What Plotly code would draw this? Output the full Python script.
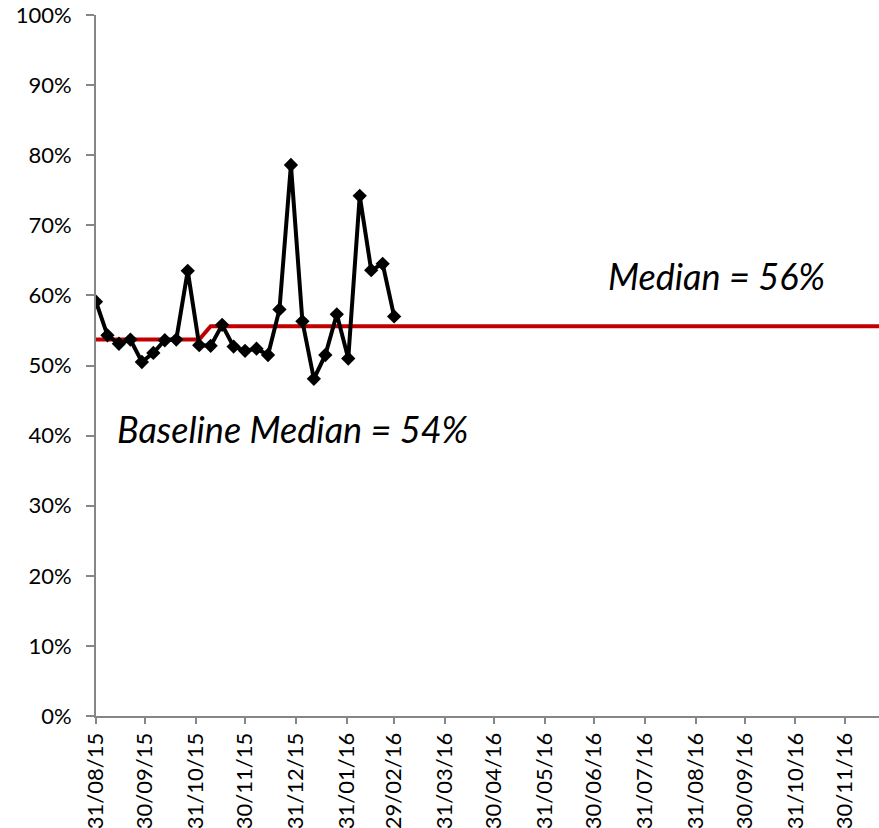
import pandas as pd
import plotly.graph_objects as go

# Weekly measurements (Monday week-start), as fractions
week_dates = pd.date_range("2015-08-31", "2016-02-29", freq="7D")
rate = [0.591, 0.543, 0.531, 0.537, 0.505, 0.518, 0.536, 0.537, 0.635, 0.529,
        0.528, 0.558, 0.527, 0.521, 0.524, 0.515, 0.580, 0.786, 0.563, 0.481,
        0.515, 0.573, 0.510, 0.742, 0.636, 0.645, 0.570]

# Median reference line: baseline for the first 10 weeks, then the new median
baseline_median = 0.537
new_median = 0.556
baseline_weeks = 10
median_dates = pd.date_range("2015-08-31", "2016-12-26", freq="7D")
median_vals = [baseline_median if i < baseline_weeks else new_median
               for i in range(len(median_dates))]

# Month-end axis ticks
tick_dates = pd.to_datetime([
    "2015-08-31", "2015-09-30", "2015-10-31", "2015-11-30", "2015-12-31",
    "2016-01-31", "2016-02-29", "2016-03-31", "2016-04-30", "2016-05-31",
    "2016-06-30", "2016-07-31", "2016-08-31", "2016-09-30", "2016-10-31",
    "2016-11-30",
])
tick_text = [d.strftime("%d/%m/%y") for d in tick_dates]

FONT = "Lato"
AXIS_GREY = "#868686"
TICK_SIZE = 22

fig = go.Figure()

fig.add_trace(go.Scatter(
    x=median_dates, y=median_vals, mode="lines",
    line=dict(color="#C00000", width=4),
    hoverinfo="skip", showlegend=False,
))

fig.add_trace(go.Scatter(
    x=week_dates, y=rate, mode="lines+markers",
    line=dict(color="black", width=4),
    marker=dict(symbol="diamond", size=11, color="black"),
    showlegend=False,
))

fig.add_annotation(
    x="2016-09-13", y=0.627, xref="x", yref="y",
    text=f"<i>Median = {new_median:.0%}</i>", showarrow=False,
    font=dict(family=FONT, size=36, color="black"),
)
fig.add_annotation(
    x="2015-12-29", y=0.410, xref="x", yref="y",
    text=f"<i>Baseline Median = {baseline_median:.0%}</i>", showarrow=False,
    font=dict(family=FONT, size=36, color="black"),
)

fig.update_layout(
    width=879, height=828,
    margin=dict(l=96, r=0, t=15, b=112),
    paper_bgcolor="white", plot_bgcolor="white",
    font=dict(family=FONT, size=TICK_SIZE, color="black"),
)

fig.update_xaxes(
    range=["2015-08-31", "2016-12-21"], automargin=False,
    tickmode="array", tickvals=tick_dates, ticktext=tick_text,
    tickangle=-90, ticks="outside", ticklen=6, tickwidth=1.5, tickcolor=AXIS_GREY,
    ticklabelstandoff=0,
    showline=True, linecolor=AXIS_GREY, linewidth=2,
    showgrid=False, zeroline=False,
    tickfont=dict(family=FONT, size=TICK_SIZE, color="black"),
)
fig.update_yaxes(
    range=[0, 1], tick0=0, dtick=0.1, tickformat=".0%", automargin=False,
    ticks="outside", ticklen=8, tickwidth=1.5, tickcolor=AXIS_GREY,
    ticklabelstandoff=10,
    showline=True, linecolor=AXIS_GREY, linewidth=2,
    showgrid=False, zeroline=False,
    tickfont=dict(family=FONT, size=TICK_SIZE, color="black"),
)

fig.write_html("out.html")
